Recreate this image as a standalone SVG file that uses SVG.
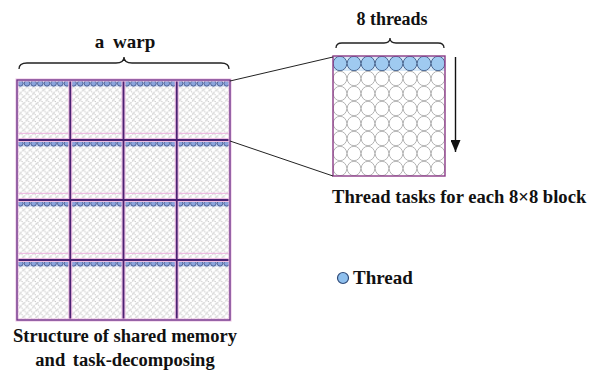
<svg xmlns="http://www.w3.org/2000/svg" width="595" height="372" viewBox="0 0 595 372">
  <style>
    .lbl { font-family: "Liberation Serif", "Times New Roman", serif; font-weight: bold; fill: #111; }
    .brace { fill: none; stroke: #222; stroke-width: 1.3; }
    .conn { stroke: #222; stroke-width: 1; fill: none; }
    .halo { stroke: #ecbde2; stroke-width: 4; fill: none; }
    .grid { stroke: #4b2272; stroke-width: 1.8; fill: none; }
    .thr { fill: #8aa4dc; stroke: #34457a; stroke-width: 0.7; }
  </style>
  <defs>
    <!-- small shared-memory cells -->
    <pattern id="cellSmall" patternUnits="userSpaceOnUse" x="17" y="80" width="6.656" height="6.667">
      <rect width="6.656" height="6.667" fill="#fff"/>
      <circle cx="3.33" cy="3.33" r="2.6" fill="#fff" stroke="#858585" stroke-width="0.6" stroke-dasharray="1.6 1"/>
    </pattern>
    <!-- one row of 32 thread cells across the shared memory -->
    <g id="threadRow">
      <rect x="17" y="0" width="213" height="6.667" fill="#c6d3ef"/>
      <g class="thr">
        <circle cx="20.33" cy="3.33" r="2.8"/><circle cx="26.98" cy="3.33" r="2.8"/>
        <circle cx="33.64" cy="3.33" r="2.8"/><circle cx="40.30" cy="3.33" r="2.8"/>
        <circle cx="46.95" cy="3.33" r="2.8"/><circle cx="53.61" cy="3.33" r="2.8"/>
        <circle cx="60.27" cy="3.33" r="2.8"/><circle cx="66.92" cy="3.33" r="2.8"/>
        <circle cx="73.58" cy="3.33" r="2.8"/><circle cx="80.23" cy="3.33" r="2.8"/>
        <circle cx="86.89" cy="3.33" r="2.8"/><circle cx="93.55" cy="3.33" r="2.8"/>
        <circle cx="100.20" cy="3.33" r="2.8"/><circle cx="106.86" cy="3.33" r="2.8"/>
        <circle cx="113.52" cy="3.33" r="2.8"/><circle cx="120.17" cy="3.33" r="2.8"/>
        <circle cx="126.83" cy="3.33" r="2.8"/><circle cx="133.48" cy="3.33" r="2.8"/>
        <circle cx="140.14" cy="3.33" r="2.8"/><circle cx="146.80" cy="3.33" r="2.8"/>
        <circle cx="153.45" cy="3.33" r="2.8"/><circle cx="160.11" cy="3.33" r="2.8"/>
        <circle cx="166.77" cy="3.33" r="2.8"/><circle cx="173.42" cy="3.33" r="2.8"/>
        <circle cx="180.08" cy="3.33" r="2.8"/><circle cx="186.73" cy="3.33" r="2.8"/>
        <circle cx="193.39" cy="3.33" r="2.8"/><circle cx="200.05" cy="3.33" r="2.8"/>
        <circle cx="206.70" cy="3.33" r="2.8"/><circle cx="213.36" cy="3.33" r="2.8"/>
        <circle cx="220.02" cy="3.33" r="2.8"/><circle cx="226.67" cy="3.33" r="2.8"/>
      </g>
    </g>
    <!-- cells of the enlarged 8x8 block -->
    <pattern id="cellBig" patternUnits="userSpaceOnUse" x="333" y="56" width="14" height="15">
      <rect width="14" height="15" fill="#fff"/>
      <ellipse cx="7" cy="7.5" rx="6.8" ry="7.2" fill="#fff" stroke="#a0a0a0" stroke-width="0.8"/>
    </pattern>
    <pattern id="cellThreadBig" patternUnits="userSpaceOnUse" x="333" y="56" width="14" height="15">
      <rect width="14" height="15" fill="#d6e8f8"/>
      <ellipse cx="7" cy="7.5" rx="6.8" ry="7.2" fill="#9fcaf0" stroke="#2f4a78" stroke-width="0.8"/>
    </pattern>
    <marker id="arrowHead" viewBox="0 0 12 10" refX="12" refY="5" markerWidth="12" markerHeight="10" markerUnits="userSpaceOnUse" orient="auto">
      <path d="M0,0 L12,5 L0,10 Z" fill="#111"/>
    </marker>
  </defs>

  <!-- shared memory: 4x4 blocks -->
  <g id="shared-memory">
    <rect x="17" y="80" width="213" height="240" fill="url(#cellSmall)"/>
    <use href="#threadRow" y="80"/>
    <use href="#threadRow" y="140"/>
    <use href="#threadRow" y="200"/>
    <use href="#threadRow" y="260"/>
    <!-- faint row markers inside each block row -->
    <g stroke="#eab0dc" stroke-width="1">
      <line x1="17" y1="133.3" x2="230" y2="133.3"/>
      <line x1="17" y1="193.3" x2="230" y2="193.3"/>
      <line x1="17" y1="253.3" x2="230" y2="253.3"/>
    </g>
    <path class="halo" d="M70.25,80V320M123.5,80V320M176.75,80V320M17,140H230M17,200H230M17,260H230"/>
    <path class="grid" d="M70.25,80V320M123.5,80V320M176.75,80V320M17,140H230M17,200H230M17,260H230"/>
    <rect x="17" y="80" width="213" height="240" fill="none" stroke="#ecbde2" stroke-width="3"/>
    <rect x="17" y="80" width="213" height="240" fill="none" stroke="#6a3488" stroke-width="1.3"/>
  </g>

  <!-- enlarged 8x8 block -->
  <g id="block-8x8">
    <rect x="333" y="56" width="112" height="120" fill="url(#cellBig)"/>
    <rect x="333" y="56" width="112" height="15" fill="url(#cellThreadBig)"/>
    <rect x="333" y="56" width="112" height="120" fill="none" stroke="#8a3a86" stroke-width="1.4"/>
  </g>

  <!-- connectors -->
  <g id="connectors">
    <line class="conn" x1="230" y1="81" x2="333" y2="57"/>
    <line class="conn" x1="230" y1="141" x2="333" y2="176"/>
    <line x1="455.5" y1="57" x2="455.5" y2="152" stroke="#111" stroke-width="1.4" marker-end="url(#arrowHead)"/>
  </g>

  <!-- braces and labels -->
  <g id="warp-label">
    <path class="brace" d="M19,69 Q19,63 27,63 L116,63 Q124,63 124,57 Q124,63 132,63 L221,63 Q229,63 229,69"/>
    <text class="lbl" x="125" y="48" font-size="19" text-anchor="middle" word-spacing="4">a warp</text>
  </g>
  <g id="threads-label">
    <path class="brace" d="M336,48 Q336,43 342,43 L384,43 Q390,43 390,38 Q390,43 396,43 L438,43 Q444,43 444,48"/>
    <text class="lbl" x="392" y="25" font-size="18" text-anchor="middle">8 threads</text>
  </g>
  <g id="block-caption">
    <text class="lbl" x="332" y="203" font-size="18.6">Thread tasks for each 8×8 block</text>
  </g>
  <g id="legend">
    <circle cx="343" cy="278" r="5.5" fill="#8fc0ee" stroke="#2f4a78" stroke-width="1.2"/>
    <text class="lbl" x="353" y="284" font-size="19">Thread</text>
  </g>
  <g id="memory-caption">
    <text class="lbl" x="125" y="342" font-size="18.5" text-anchor="middle">Structure of shared memory</text>
    <text class="lbl" x="125" y="366" font-size="18.5" text-anchor="middle" word-spacing="3">and task-decomposing</text>
  </g>
</svg>
